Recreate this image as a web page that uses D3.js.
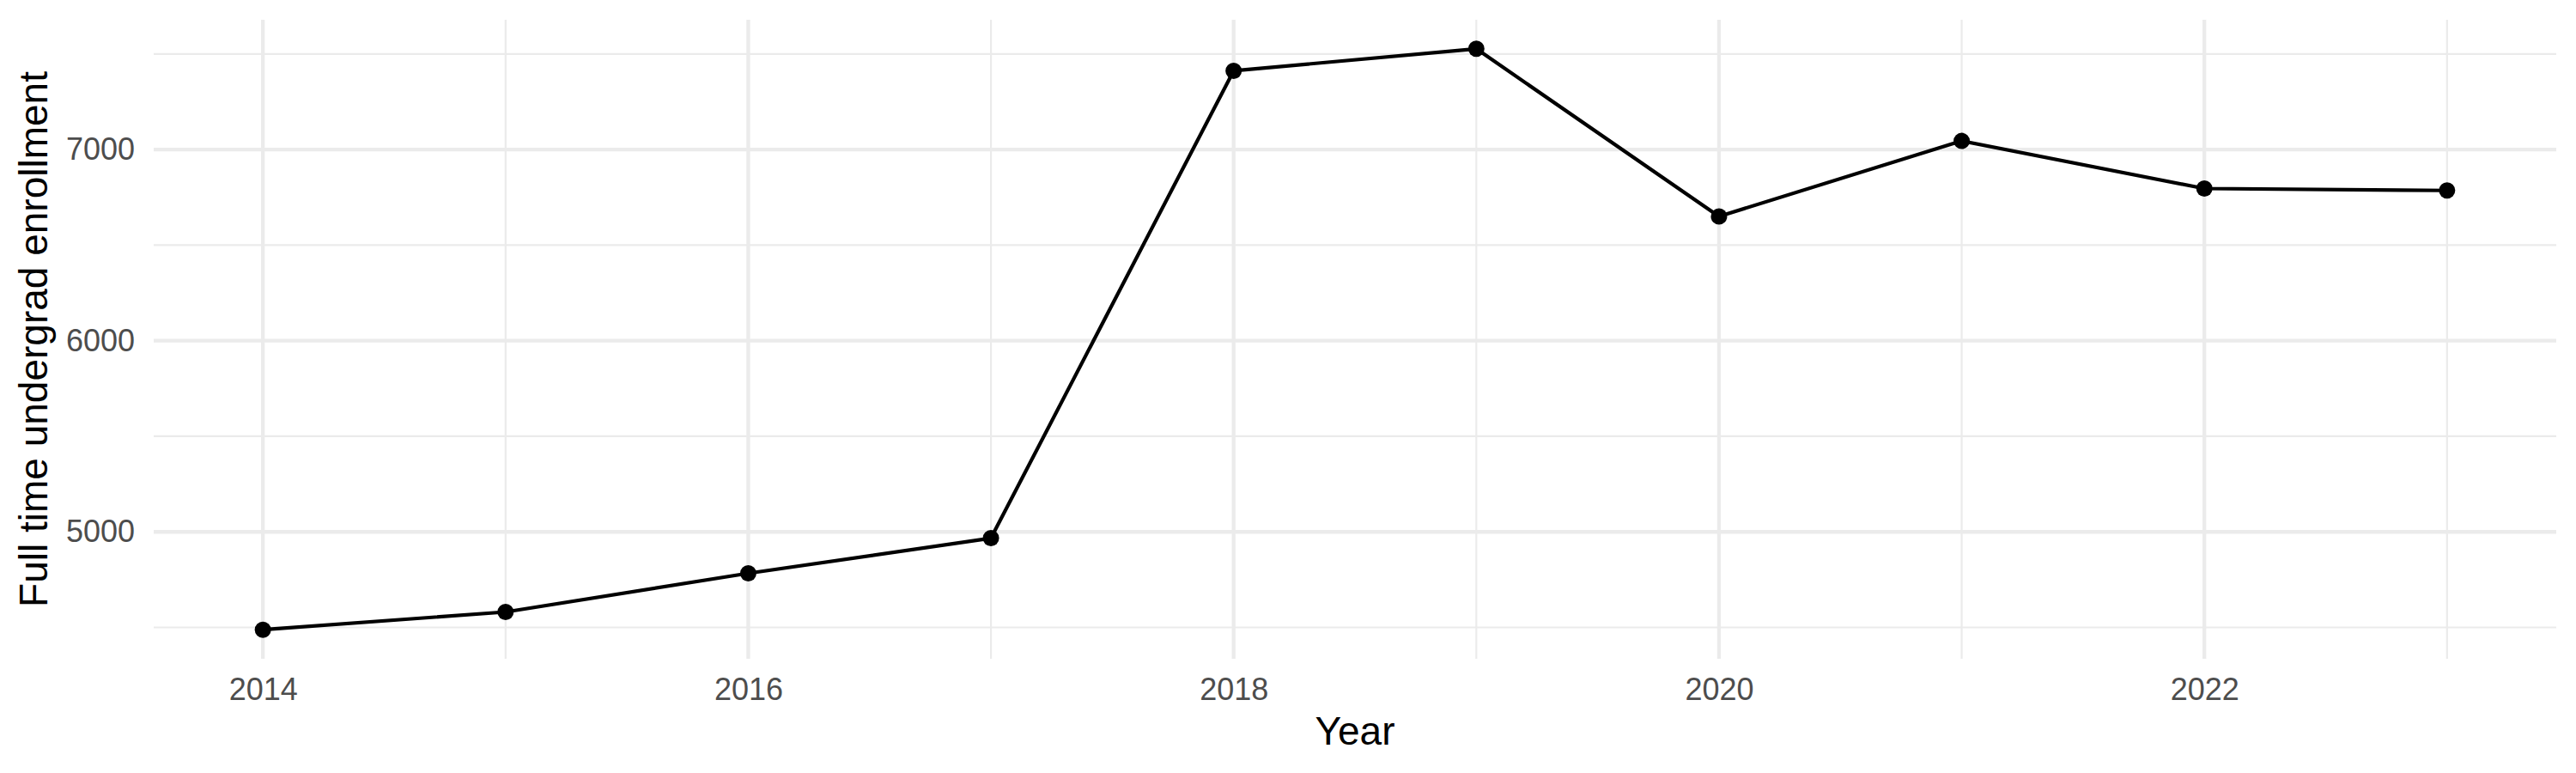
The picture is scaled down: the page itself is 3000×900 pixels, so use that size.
<!DOCTYPE html>
<html>
<head>
<meta charset="utf-8">
<script src="https://cdn.jsdelivr.net/npm/d3@7"></script>
<style>
  body { margin: 0; background: #fff; }
  text { font-family: "Liberation Sans", Arial, sans-serif; }
</style>
</head>
<body>
<div id="chart"></div>
<script>
// Data
var years = [2014, 2015, 2016, 2017, 2018, 2019, 2020, 2021, 2022, 2023];
var enrollment = [4488, 4581, 4783, 4967, 7412, 7527, 6650, 7045, 6796, 6786];

// Axis breaks
var xMajorTicks = [2014, 2016, 2018, 2020, 2022];
var xMinorTicks = [2015, 2017, 2019, 2021, 2023];
var yMajorTicks = [5000, 6000, 7000];
var yMinorTicks = [4500, 5500, 6500, 7500];

var data = years.map(function (y, i) { return { x: y, y: enrollment[i] }; });

// Panel box in page pixels
var W = 3000, H = 900;
var panel = { left: 179, right: 2977, top: 23, bottom: 767 };

var svg = d3.select("#chart")
    .append("svg")
    .attr("width", W)
    .attr("height", H);

// ggplot style 5% expansion on both scales
function expand(ext) {
    var pad = (ext[1] - ext[0]) * 0.05;
    return [ext[0] - pad, ext[1] + pad];
}

var xScale = d3.scaleLinear()
    .domain(expand(d3.extent(years)))
    .range([panel.left, panel.right]);

var yScale = d3.scaleLinear()
    .domain(expand(d3.extent(enrollment)))
    .range([panel.bottom, panel.top]);

var grid = svg.append("g");

// minor grid first, then major on top
grid.selectAll(".ymin")
    .data(yMinorTicks)
    .enter().append("line")
    .attr("x1", panel.left).attr("x2", panel.right)
    .attr("y1", function (d) { return yScale(d); })
    .attr("y2", function (d) { return yScale(d); })
    .attr("stroke", "#ebebeb")
    .attr("stroke-width", 2.2);

grid.selectAll(".xmin")
    .data(xMinorTicks)
    .enter().append("line")
    .attr("y1", panel.top).attr("y2", panel.bottom)
    .attr("x1", function (d) { return xScale(d); })
    .attr("x2", function (d) { return xScale(d); })
    .attr("stroke", "#ebebeb")
    .attr("stroke-width", 2.2);

grid.selectAll(".ymaj")
    .data(yMajorTicks)
    .enter().append("line")
    .attr("x1", panel.left).attr("x2", panel.right)
    .attr("y1", function (d) { return yScale(d); })
    .attr("y2", function (d) { return yScale(d); })
    .attr("stroke", "#ebebeb")
    .attr("stroke-width", 4.3);

grid.selectAll(".xmaj")
    .data(xMajorTicks)
    .enter().append("line")
    .attr("y1", panel.top).attr("y2", panel.bottom)
    .attr("x1", function (d) { return xScale(d); })
    .attr("x2", function (d) { return xScale(d); })
    .attr("stroke", "#ebebeb")
    .attr("stroke-width", 4.3);

// Line
var line = d3.line()
    .x(function (d) { return xScale(d.x); })
    .y(function (d) { return yScale(d.y); });

svg.append("path")
    .datum(data)
    .attr("fill", "none")
    .attr("stroke", "#000")
    .attr("stroke-width", 4.2)
    .attr("stroke-linejoin", "round")
    .attr("d", line);

svg.selectAll("circle")
    .data(data)
    .enter().append("circle")
    .attr("cx", function (d) { return xScale(d.x); })
    .attr("cy", function (d) { return yScale(d.y); })
    .attr("r", 9.5)
    .attr("fill", "#000");

// Axes: labels only, no domain line or ticks
var xAxis = d3.axisBottom(xScale)
    .tickValues(xMajorTicks)
    .tickFormat(d3.format("d"))
    .tickSize(0)
    .tickPadding(22);

svg.append("g")
    .attr("transform", "translate(0," + panel.bottom + ")")
    .call(xAxis)
    .call(function (g) { g.select(".domain").remove(); })
    .selectAll("text")
    .attr("font-family", "Liberation Sans, Arial, sans-serif")
    .attr("font-size", 36)
    .attr("fill", "#4d4d4d");

var yAxis = d3.axisLeft(yScale)
    .tickValues(yMajorTicks)
    .tickFormat(d3.format("d"))
    .tickSize(0)
    .tickPadding(22);

svg.append("g")
    .attr("transform", "translate(" + panel.left + ",0)")
    .call(yAxis)
    .call(function (g) { g.select(".domain").remove(); })
    .selectAll("text")
    .attr("font-family", "Liberation Sans, Arial, sans-serif")
    .attr("font-size", 36)
    .attr("fill", "#4d4d4d");

// Axis titles
svg.append("text")
    .attr("x", (panel.left + panel.right) / 2)
    .attr("y", 867)
    .attr("text-anchor", "middle")
    .attr("font-size", 46)
    .attr("fill", "#000")
    .text("Year");

svg.append("text")
    .attr("transform", "translate(55," + (panel.top + panel.bottom) / 2 + ") rotate(-90)")
    .attr("text-anchor", "middle")
    .attr("font-size", 46)
    .attr("fill", "#000")
    .text("Full time undergrad enrollment");
</script>
</body>
</html>
